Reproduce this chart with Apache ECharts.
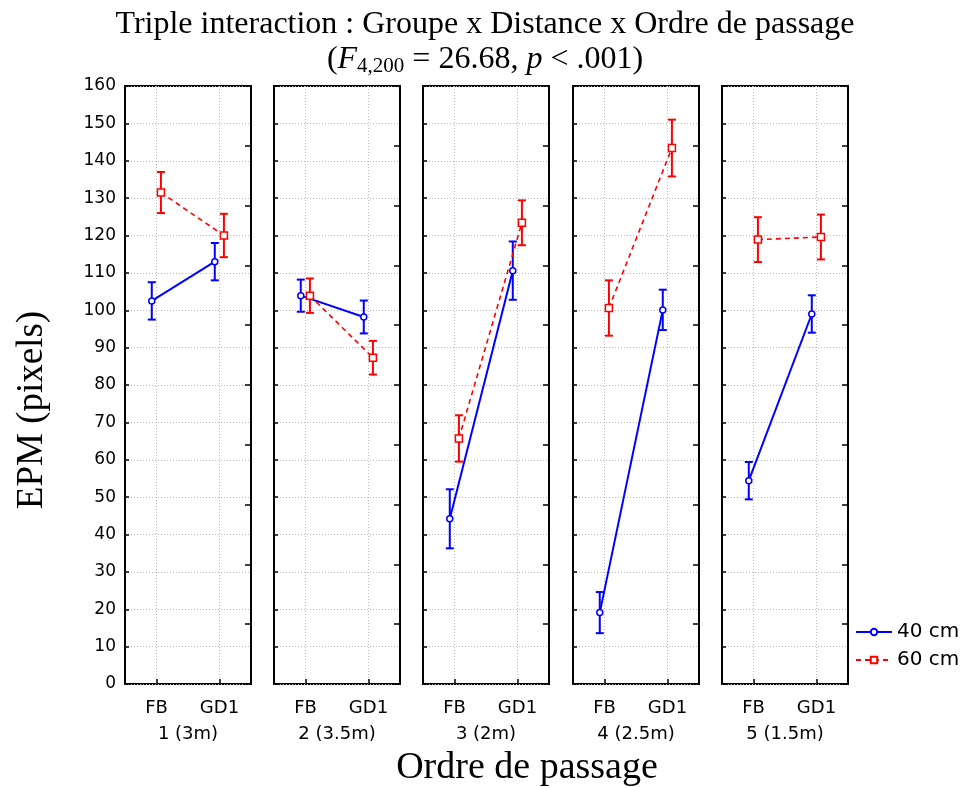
<!DOCTYPE html>
<html>
<head>
<meta charset="utf-8">
<script src="https://cdn.jsdelivr.net/npm/echarts@6/dist/echarts.min.js"></script>
<style>html,body{margin:0;padding:0;background:#fff;}#c{width:970px;height:787px;}</style>
</head>
<body>
<div id="c"></div>
<script>
// ---- data ----
const panels = ['1 (3m)', '2 (3.5m)', '3 (2m)', '4 (2.5m)', '5 (1.5m)'];
const conditions = ['FB', 'GD1'];
const seriesNames = ['40 cm', '60 cm'];
// means [FB, GD1] per panel
const mean40 = [[102.5, 113.0], [103.9, 98.2], [44.2, 110.6], [19.1, 100.1], [54.4, 99.0]];
const mean60 = [[131.5, 120.0], [103.9, 87.3], [65.7, 123.4], [100.6, 143.4], [118.9, 119.6]];
// half-width of error bars
const err40 = [[5.0, 5.0], [4.3, 4.4], [7.9, 7.8], [5.5, 5.4], [5.0, 5.0]];
const err60 = [[5.5, 5.8], [4.6, 4.5], [6.2, 6.0], [7.4, 7.6], [6.0, 6.0]];
const yMin = 0, yMax = 160, yStep = 10;

// ---- layout / style ----
const BLUE = '#0000ff', RED = '#ff0000';
const panelLeft = [125, 274, 423, 573, 722];
const panelWidth = 126, panelTop = 86, panelHeight = 598;
const jitter = [-0.075, 0.07];
const SANS = 'DejaVu Sans', SERIF = 'Liberation Serif';
const slotShow = (i) => i === 1 || i === 3;

const grid = [], xAxis = [], yAxis = [], series = [];
panels.forEach((p, i) => {
  grid.push({left: panelLeft[i], top: panelTop, width: panelWidth, height: panelHeight,
    show: true, borderColor: '#000', borderWidth: 2, backgroundColor: 'transparent'});
  xAxis.push({
    type: 'category', gridIndex: i, boundaryGap: false,
    data: ['', conditions[0], '', conditions[1], ''],
    axisLine: {show: false},
    axisTick: {show: true, inside: true, length: 5, interval: slotShow, lineStyle: {color: '#000', width: 1.5}},
    axisLabel: {show: true, interval: slotShow, margin: 15, color: '#000', fontFamily: SANS, fontSize: 18},
    splitLine: {show: true, interval: slotShow, lineStyle: {color: '#bbb', type: [1, 2], width: 1}},
    name: p, nameLocation: 'middle', nameGap: 41,
    nameTextStyle: {color: '#000', fontFamily: SANS, fontSize: 18}
  });
  xAxis.push({type: 'value', gridIndex: i, min: 0, max: 2, show: false});
  yAxis.push({
    type: 'value', gridIndex: i, min: yMin, max: yMax, interval: yStep,
    axisLine: {show: false},
    axisTick: {show: true, inside: true, length: 4, lineStyle: {color: '#000', width: 1.5}},
    axisLabel: {show: i === 0, margin: 9, color: '#000', fontFamily: SANS, fontSize: 17},
    splitLine: {show: true, lineStyle: {color: '#bbb', type: [1, 2], width: 1}}
  });
  yAxis.push({
    type: 'value', gridIndex: i, position: 'right', min: 0, max: 10, interval: 1,
    axisLine: {show: false},
    axisTick: {show: true, inside: true, length: 6, lineStyle: {color: '#000', width: 1.5}},
    axisLabel: {show: false}, splitLine: {show: false}
  });

  const groups = [
    {name: seriesNames[0], mean: mean40[i], err: err40[i], color: BLUE, dash: 'solid', width: 2, symbol: 'circle', size: 6, j: jitter[0]},
    {name: seriesNames[1], mean: mean60[i], err: err60[i], color: RED, dash: [5, 4], width: 1.6, symbol: 'rect', size: 7, j: jitter[1]}
  ];
  groups.forEach(g => {
    const pts = g.mean.map((m, k) => [k + 0.5 + g.j, m, m - g.err[k], m + g.err[k]]);
    series.push({
      type: 'custom', name: g.name + ' err', xAxisIndex: i * 2 + 1, yAxisIndex: i * 2,
      data: pts, encode: {x: 0, y: [1, 2, 3]}, silent: true, z: 2,
      renderItem: function (params, api) {
        const x = api.value(0);
        const lo = api.coord([x, api.value(2)]);
        const hi = api.coord([x, api.value(3)]);
        const cw = 4;
        const st = {stroke: g.color, lineWidth: 2};
        return {type: 'group', children: [
          {type: 'line', shape: {x1: lo[0], y1: lo[1], x2: hi[0], y2: hi[1]}, style: st},
          {type: 'line', shape: {x1: lo[0] - cw, y1: lo[1], x2: lo[0] + cw, y2: lo[1]}, style: st},
          {type: 'line', shape: {x1: hi[0] - cw, y1: hi[1], x2: hi[0] + cw, y2: hi[1]}, style: st}
        ]};
      }
    });
    series.push({
      type: 'line', name: g.name, xAxisIndex: i * 2 + 1, yAxisIndex: i * 2,
      data: pts.map(d => [d[0], d[1]]), z: 3,
      symbol: g.symbol, symbolSize: g.size, showSymbol: true,
      itemStyle: {color: '#fff', borderColor: g.color, borderWidth: 1.5},
      lineStyle: {color: g.color, width: g.width, type: g.dash},
      animation: false
    });
  });
});

const chart = echarts.init(document.getElementById('c'), null, {renderer: 'canvas'});
chart.setOption({
  backgroundColor: '#fff',
  animation: false,
  title: {
    left: 'center', top: 2,
    text: 'Triple interaction : Groupe x Distance x Ordre de passage\n{n|(}{i|F}{s|4,200}{n| = 26.68, }{i|p}{n| < .001)}',
    textStyle: {
      fontFamily: SERIF, fontSize: 32, fontWeight: 'normal', color: '#000', lineHeight: 35,
      rich: {
        n: {fontFamily: SERIF, fontSize: 32, color: '#000', lineHeight: 35},
        i: {fontFamily: SERIF, fontSize: 32, fontStyle: 'italic', color: '#000', lineHeight: 35},
        s: {fontFamily: SERIF, fontSize: 21, color: '#000', verticalAlign: 'bottom', lineHeight: 21}
      }
    }
  },
  legend: {
    data: seriesNames, orient: 'vertical', left: 850, top: 616,
    itemWidth: 36, itemHeight: 8, itemGap: 6,
    textStyle: {fontFamily: SANS, fontSize: 20, color: '#000', lineHeight: 22},
    selectedMode: false
  },
  grid: grid, xAxis: xAxis, yAxis: yAxis, series: series,
  graphic: [
    {type: 'text', x: 32, y: 410, rotation: Math.PI / 2,
      style: {text: 'EPM (pixels)', font: '37px "Liberation Serif"', fill: '#000', align: 'center', verticalAlign: 'middle'}},
    {type: 'text', x: 527, y: 768,
      style: {text: 'Ordre de passage', font: '38px "Liberation Serif"', fill: '#000', align: 'center', verticalAlign: 'middle'}}
  ]
});
</script>
</body>
</html>
